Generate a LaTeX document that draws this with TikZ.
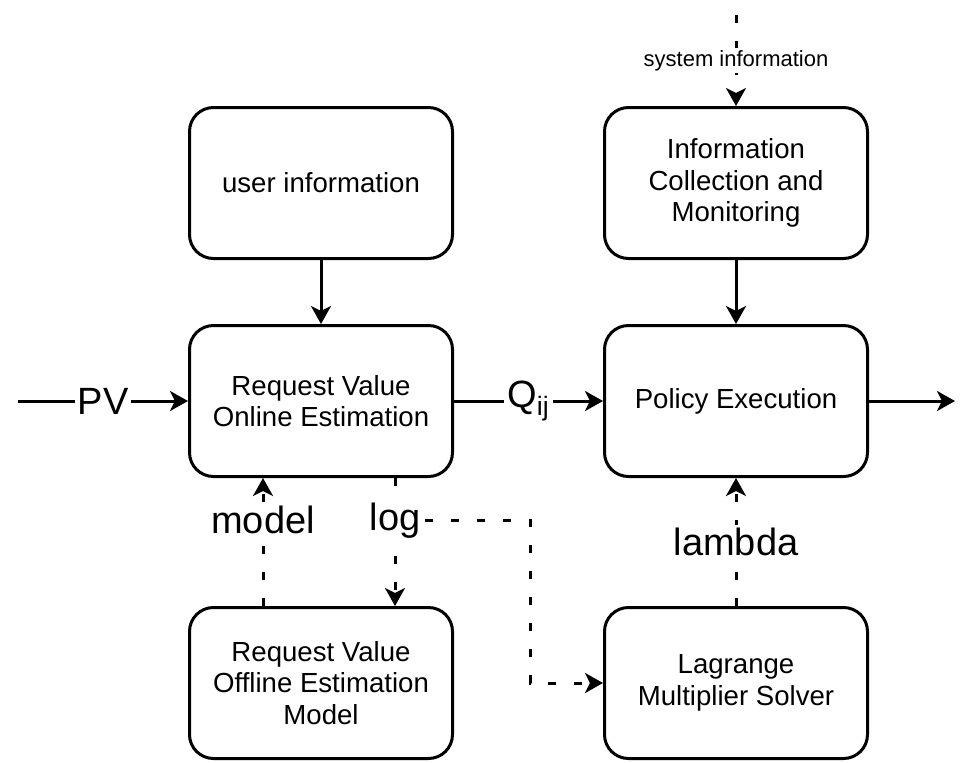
\documentclass[tikz,border=0pt]{standalone}
\usepackage{fontspec}
\setmainfont{Liberation Sans}
\usepackage{tikz}
\usetikzlibrary{arrows.meta, positioning, calc}

\begin{document}
\begin{tikzpicture}[
  x=0.5pt, y=-0.5pt,
  block/.style={draw,rounded corners=12pt,line width=1.5pt,minimum width=131.5pt,
                minimum height=75.5pt,align=center,font=\fontsize{13.8}{15.8}\selectfont},
  lbl/.style={fill=white,inner sep=1.5pt,font=\fontsize{19}{22}\selectfont},
  smalllbl/.style={fill=white,inner sep=1pt,font=\fontsize{11}{13}\selectfont},
  flow/.style={->,line width=1.5pt},
  dotflow/.style={->,line width=1.5pt,dash pattern=on 4pt off 9pt},
  >={Stealth[length=9pt,width=10pt,inset=2.5pt]}
]
  \useasboundingbox (0,0) rectangle (970,762);

  % Left column
  \node[block] (user)    at (321,183) {user information};
  \node[block] (online)  at (321,401) {Request Value\\Online Estimation};
  \node[block] (offline) at (321,683) {Request Value\\Offline Estimation\\Model};

  % Right column
  \node[block] (collect)  at (736,183) {Information\\Collection and\\Monitoring};
  \node[block] (policy)   at (736,401) {Policy Execution};
  \node[block] (lagrange) at (736,683) {Lagrange\\Multiplier Solver};

  \coordinate (pvin)  at (18,401);
  \coordinate (out)   at (955,401);
  \coordinate (sysin) at (736,15);
  \coordinate (turn)  at (530,683);

  % Main flow
  \draw[flow] (pvin) -- node[lbl] {PV} (online);
  \draw[flow] (online) -- node[lbl] {Q\textsubscript{ij}} (policy);
  \draw[flow] (policy) -- (out);
  \draw[flow] (user) -- (online);
  \draw[flow] (collect) -- (policy);

  % Dotted feedback
  \draw[dotflow] (sysin) -- node[smalllbl] {system information} (collect);
  \draw[dotflow] ([xshift=-29pt]offline.north) -- node[lbl,pos=0.67] {model} ([xshift=-29pt]online.south);
  \draw[dotflow] ([xshift=37pt]online.south) -- node[lbl,pos=0.33] (loglbl) {log} ([xshift=37pt]offline.north);
  \draw[dotflow] (loglbl.east) -| (turn) -- (lagrange);
  \draw[dotflow] (lagrange) -- node[lbl] {lambda} (policy);
\end{tikzpicture}
\end{document}
